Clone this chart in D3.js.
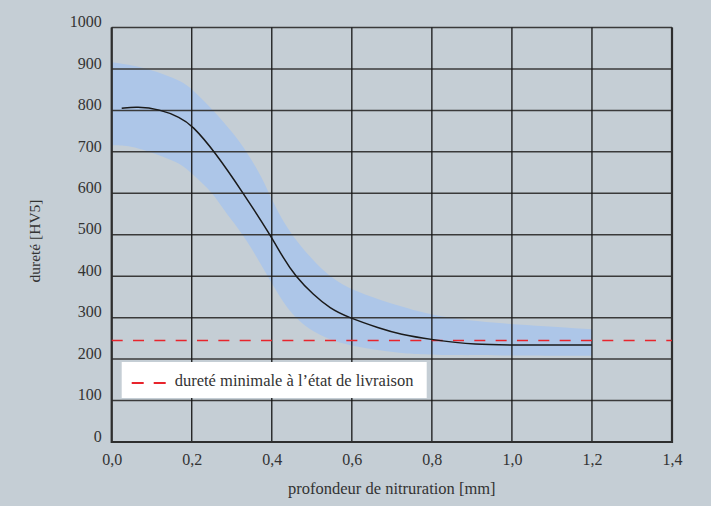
<!DOCTYPE html>
<html>
<head>
<meta charset="utf-8">
<script src="https://cdn.jsdelivr.net/npm/d3@7"></script>
<style>
  body { margin: 0; background: #c5ced5; }
  svg { display: block; }
</style>
</head>
<body>
<div id="chart"></div>
<script>
// mean hardness curve [depth mm, HV5]
const meanCurve = [
  [0.025, 805], [0.0625, 809], [0.12, 803], [0.171, 783], [0.2, 765],
  [0.258, 700], [0.329, 600], [0.396, 500], [0.428, 445], [0.459, 400],
  [0.504, 355], [0.546, 322], [0.5875, 302], [0.67, 274], [0.72, 260],
  [0.8, 247], [0.9, 234], [1.05, 234], [1.2, 234]
];
// scatter band, upper and lower bounds
const bandUpper = [
  [0, 916], [0.08, 905], [0.17, 873], [0.2, 853], [0.254, 800], [0.304, 745],
  [0.3375, 700], [0.375, 640], [0.404, 576], [0.446, 500], [0.5375, 400],
  [0.6, 367], [0.67, 343], [0.72, 328], [0.8, 305], [0.94, 287], [1.2, 272]
];
const bandLower = [
  [0, 716], [0.05, 714], [0.0875, 702], [0.125, 690], [0.171, 672], [0.2, 648],
  [0.254, 600], [0.279, 560], [0.33, 500], [0.39, 400], [0.45, 300],
  [0.52, 255], [0.6, 230], [0.72, 214], [0.8, 209], [1.2, 208]
];
const minHardness = 245;
const xTicks = [0, 0.2, 0.4, 0.6, 0.8, 1.0, 1.2, 1.4];
const yTicks = [0, 100, 200, 300, 400, 500, 600, 700, 800, 900, 1000];
const legendLabel = 'dureté minimale à l’état de livraison';
const xTitle = 'profondeur de nitruration [mm]';
const yTitle = 'dureté [HV5]';

const W = 711, H = 506;
const margin = {top: 27.5, right: 39, bottom: 64, left: 111.7};
const width = W - margin.left - margin.right;
const height = H - margin.top - margin.bottom;
const serif = '"Liberation Serif", "DejaVu Serif", "Times New Roman", serif';

const x = d3.scaleLinear().domain([0, 1.4]).range([0, width]);
const y = d3.scaleLinear().domain([0, 1000]).range([height, 0]);

const svg = d3.select('#chart').append('svg')
  .attr('width', W)
  .attr('height', H)
  .style('font-family', serif);
svg.append('rect').attr('width', W).attr('height', H).attr('fill', '#c5ced5');

const g = svg.append('g')
  .attr('transform', `translate(${margin.left}, ${margin.top})`);

// band: upper edge forward, lower edge back
const smooth = d3.curveBasis;
const edge = d3.line().x((d) => x(d[0])).y((d) => y(d[1])).curve(smooth);
const upperPath = edge(bandUpper);
const lowerPath = edge(bandLower.slice().reverse());
g.append('path')
  .attr('d', upperPath + 'L' + lowerPath.slice(1) + 'Z')
  .attr('fill', '#adc6e8');

// grid
g.append('g')
  .selectAll('line')
  .data(yTicks)
  .join('line')
    .attr('x1', 0).attr('x2', width)
    .attr('y1', (d) => y(d)).attr('y2', (d) => y(d))
    .attr('stroke', '#3a3a3a').attr('stroke-width', 1.5);
g.append('g')
  .selectAll('line')
  .data(xTicks)
  .join('line')
    .attr('x1', (d) => x(d)).attr('x2', (d) => x(d))
    .attr('y1', 0).attr('y2', height)
    .attr('stroke', '#161616').attr('stroke-width', 1.3);

// frame (left, bottom, right heavier)
g.append('path')
  .attr('d', `M0,0V${height}H${width}V0`)
  .attr('fill', 'none')
  .attr('stroke', '#2e2e2e')
  .attr('stroke-width', 2.2);

// min hardness dashed line
g.append('line')
  .attr('x1', 0).attr('x2', width)
  .attr('y1', y(minHardness)).attr('y2', y(minHardness))
  .attr('stroke', '#e8242c').attr('stroke-width', 1.5)
  .attr('stroke-dasharray', '11,10.33');

// mean curve
g.append('path')
  .datum(meanCurve)
  .attr('d', d3.line().x((d) => x(d[0])).y((d) => y(d[1])).curve(smooth))
  .attr('fill', 'none')
  .attr('stroke', '#1a1a1a')
  .attr('stroke-width', 1.5);

// axes labels
const xAxis = d3.axisBottom(x).tickValues(xTicks).tickSize(0).tickPadding(12)
  .tickFormat((d) => d3.format('.1f')(d).replace('.', ','));
g.append('g')
  .attr('transform', `translate(0, ${height})`)
  .call(xAxis)
  .call((a) => a.select('.domain').remove())
  .attr('font-family', serif)
  .attr('font-size', 16)
  .selectAll('text')
    .attr('fill', '#333');

const yAxis = d3.axisLeft(y).tickValues(yTicks).tickSize(0).tickPadding(10)
  .tickFormat(d3.format('d'));
g.append('g')
  .call(yAxis)
  .call((a) => a.select('.domain').remove())
  .attr('font-family', serif)
  .attr('font-size', 16)
  .selectAll('text')
    .attr('fill', '#333')
    .attr('dy', '-0.05em');

// legend
const leg = g.append('g').attr('transform', `translate(${x(0.025)}, ${y(193)})`);
leg.append('rect')
  .attr('width', 305).attr('height', 36)
  .attr('fill', '#fff');
leg.append('line')
  .attr('x1', 10).attr('x2', 44).attr('y1', 21).attr('y2', 21)
  .attr('stroke', '#e8242c').attr('stroke-width', 2)
  .attr('stroke-dasharray', '12,10');
leg.append('text')
  .attr('x', 53).attr('y', 23.5)
  .attr('font-size', 16.5)
  .attr('fill', '#333')
  .text(legendLabel);

// titles
svg.append('text')
  .attr('x', margin.left + width / 2).attr('y', 494)
  .attr('text-anchor', 'middle')
  .attr('font-size', 16.5)
  .attr('fill', '#333')
  .text(xTitle);
svg.append('text')
  .attr('transform', `translate(40, 241) rotate(-90)`)
  .attr('text-anchor', 'middle')
  .attr('font-size', 15.5)
  .attr('fill', '#333')
  .text(yTitle);
</script>
</body>
</html>
